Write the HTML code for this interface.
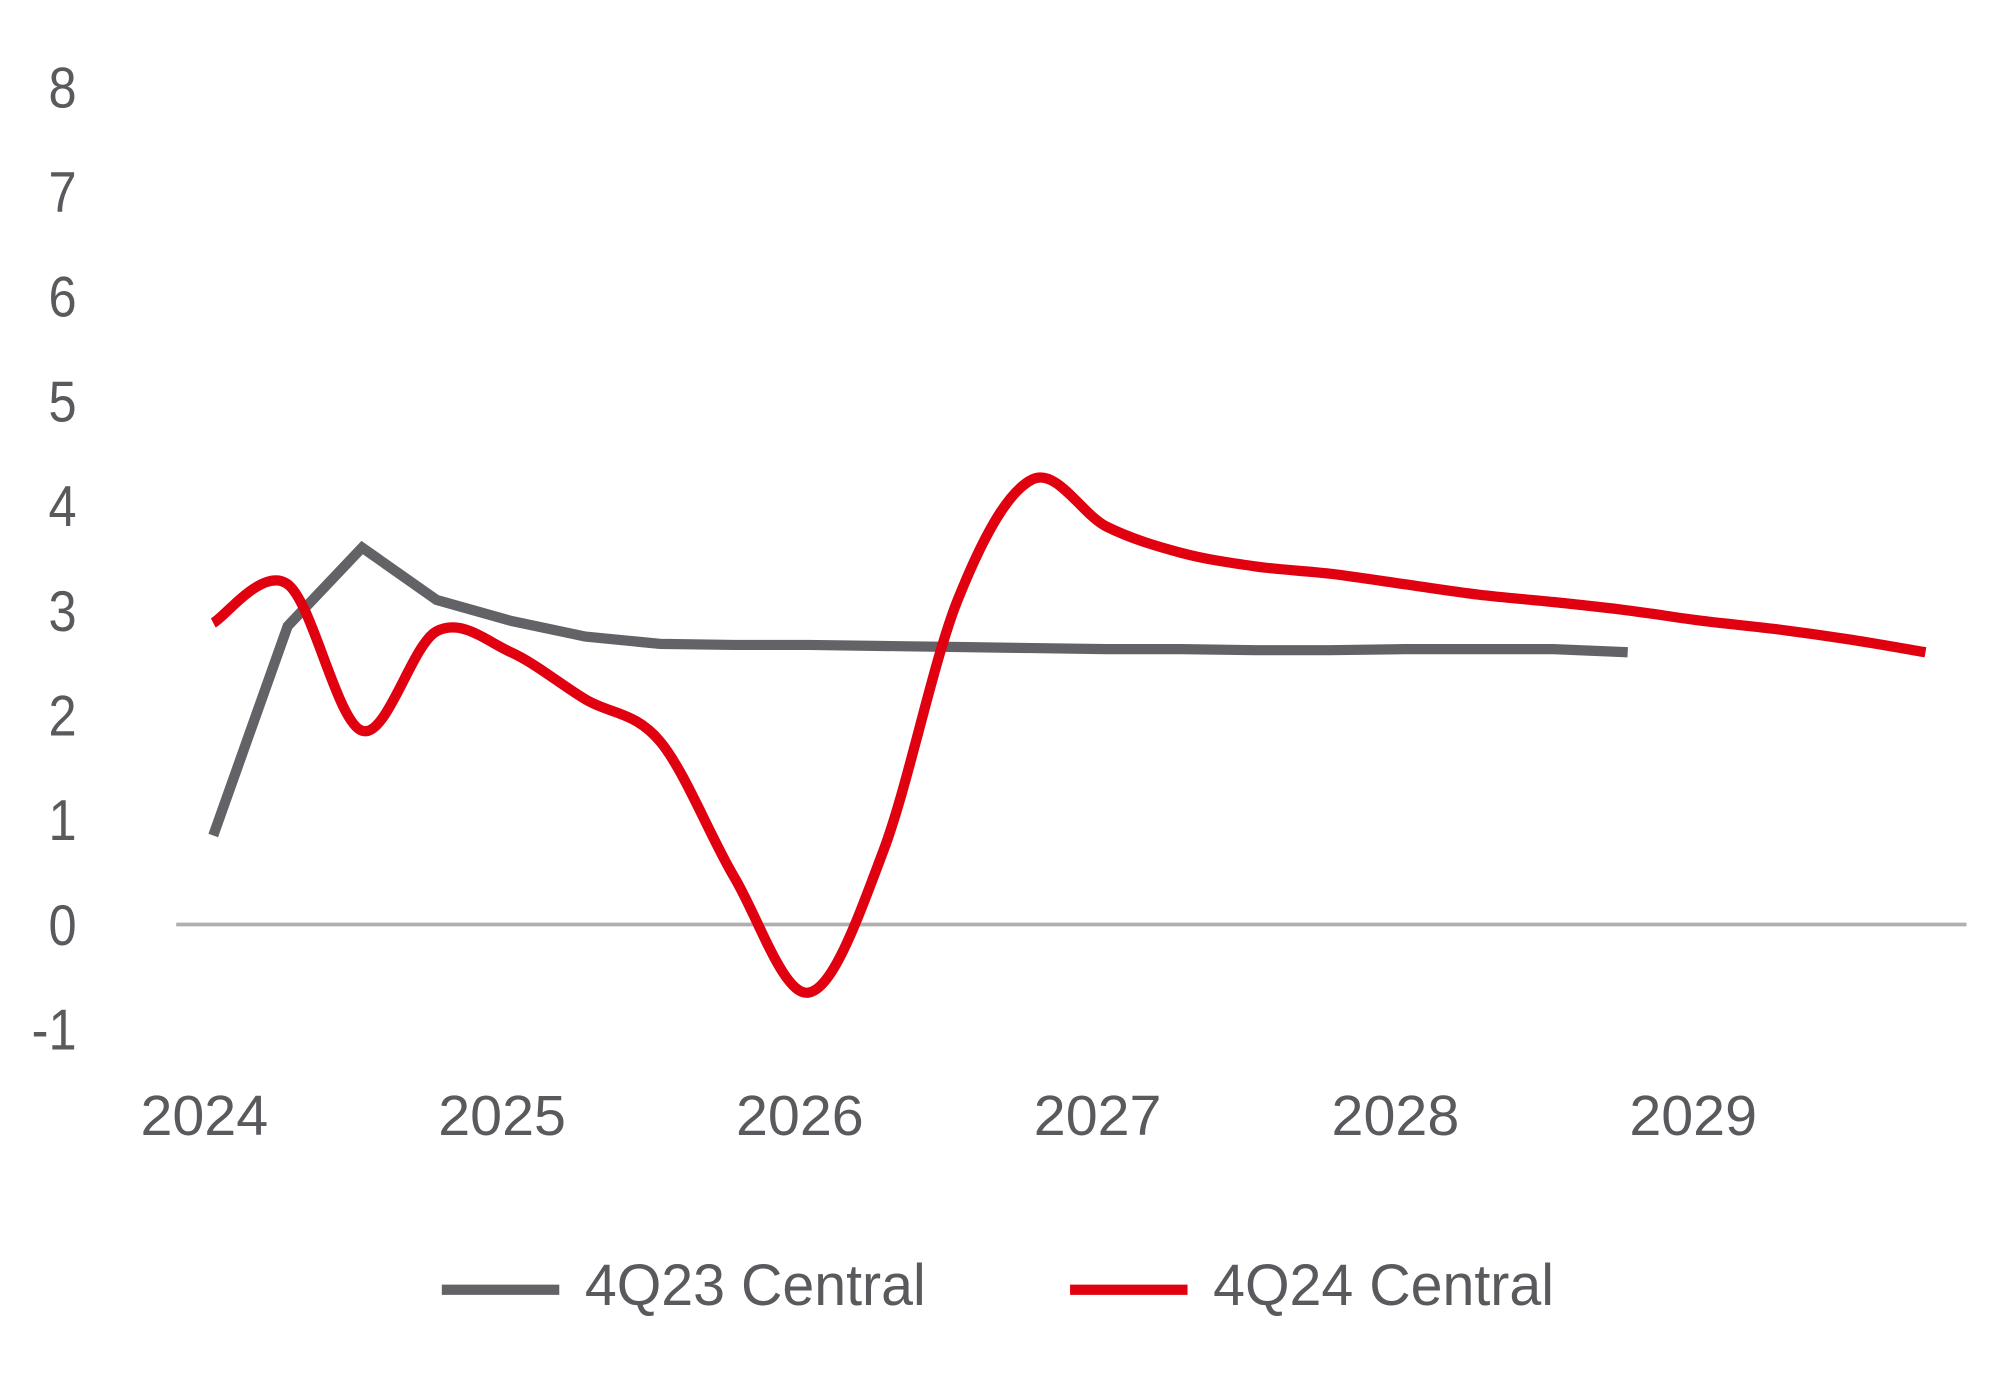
<!DOCTYPE html>
<html><head><meta charset="utf-8"><style>
html,body{margin:0;padding:0;background:#fff;}
svg{display:block;}
text{font-family:"Liberation Sans Narrow","Liberation Sans",sans-serif;fill:#5a5a5e;}
</style></head><body>
<svg id="chart" width="1992" height="1380" viewBox="0 0 1560 1080.7" xmlns="http://www.w3.org/2000/svg">
<g id="yaxis"></g>
<g id="xaxis"></g>
<line x1="138" x2="1540" y1="724" y2="724" stroke="#b0b0b0" stroke-width="3"/>
<g id="series"></g>
<g>
 <g>
  <line x1="346" x2="438" y1="1010" y2="1010" stroke="#636266" stroke-width="8"/>
  <text x="458" y="1022" font-size="46" textLength="267" lengthAdjust="spacingAndGlyphs">4Q23 Central</text>
 </g>
 <g>
  <line x1="838" x2="930" y1="1010" y2="1010" stroke="#e0000f" stroke-width="8"/>
  <text x="950" y="1022" font-size="46" textLength="267" lengthAdjust="spacingAndGlyphs">4Q24 Central</text>
 </g>
</g>
</svg>
<script>
const yTicks=[-1,0,1,2,3,4,5,6,7,8];
const xLabels=["2024","2025","2026","2027","2028","2029"];
const gray4Q23=[0.85,2.85,3.6,3.1,2.9,2.75,2.68,2.67,2.67,2.66,2.65,2.64,2.63,2.63,2.62,2.62,2.63,2.63,2.63,2.6];
const red4Q24=[2.88,3.25,1.85,2.8,2.6,2.15,1.75,0.45,-0.65,0.7,3.1,4.25,3.8,3.55,3.42,3.35,3.25,3.15,3.08,3.0,2.9,2.82,2.72,2.6];
const NS="http://www.w3.org/2000/svg";
const yS=v=>724-v*82;
const xS=i=>167+i*58.3;
const yax=document.getElementById('yaxis');
yTicks.forEach(v=>{const t=document.createElementNS(NS,'text');


t.setAttribute('x',60);t.setAttribute('y',yS(v)+16);t.setAttribute('text-anchor','end');t.setAttribute('font-size','45');
t.setAttribute('transform','translate(60,0) scale(0.88,1) translate(-60,0)');
t.textContent=v;yax.appendChild(t);});
const xax=document.getElementById('xaxis');
xLabels.forEach((l,k)=>{const t=document.createElementNS(NS,'text');


t.setAttribute('x',xS(k*4)-57);t.setAttribute('y',889);t.setAttribute('font-size','44');
t.setAttribute('textLength','100');t.setAttribute('lengthAdjust','spacingAndGlyphs');
t.textContent=l;xax.appendChild(t);});
const ser=document.getElementById('series');
let gd=gray4Q23.map((v,i)=>(i?'L':'M')+xS(i)+','+yS(v)).join(' ');
const gp=document.createElementNS(NS,'path');


gp.setAttribute('d',gd);gp.setAttribute('fill','none');gp.setAttribute('stroke','#636266');gp.setAttribute('stroke-width','8');ser.appendChild(gp);
const pts=red4Q24.map((v,i)=>[xS(i),yS(v)]);
let rd='M'+pts[0][0]+','+pts[0][1];
for(let i=0;i<pts.length-1;i++){const p0=pts[Math.max(0,i-1)],p1=pts[i],p2=pts[i+1],p3=pts[Math.min(pts.length-1,i+2)];
rd+=` C${p1[0]+(p2[0]-p0[0])/6},${p1[1]+(p2[1]-p0[1])/6} ${p2[0]-(p3[0]-p1[0])/6},${p2[1]-(p3[1]-p1[1])/6} ${p2[0]},${p2[1]}`;}
const rp=document.createElementNS(NS,'path');


rp.setAttribute('d',rd);rp.setAttribute('fill','none');rp.setAttribute('stroke','#e0000f');rp.setAttribute('stroke-width','8');ser.appendChild(rp);
</script>
</body></html>
